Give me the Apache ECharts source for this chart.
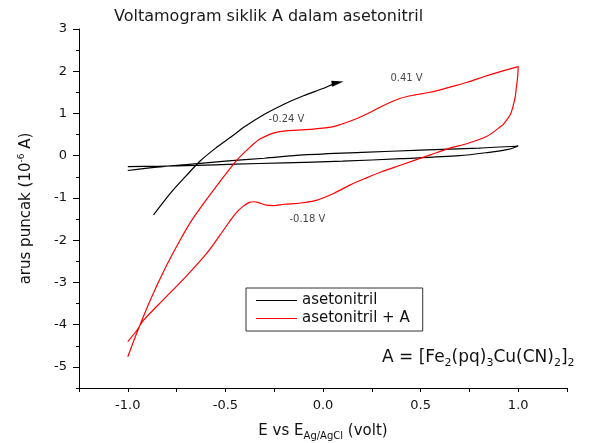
<!DOCTYPE html>
<html>
<head>
<meta charset="utf-8">
<script src="https://cdn.jsdelivr.net/npm/echarts@6/dist/echarts.min.js"></script>
<style>
  html, body { margin: 0; padding: 0; background: #fff; }
  #chart { width: 590px; height: 443px; }
</style>
</head>
<body>
<div id="chart"></div>
<script>
// 数据: 电位 (V) 与电流 (10^-6 A)
const xMajorTicks = [-1.0, -0.5, 0.0, 0.5, 1.0];
const xAllTicks = [-1.25, -1.0, -0.75, -0.5, -0.25, 0.0, 0.25, 0.5, 0.75, 1.0, 1.25];
const yMajorTicks = [-5, -4, -3, -2, -1, 0, 1, 2, 3];
const yMinorTicks = [-5.5, -4.5, -3.5, -2.5, -1.5, -0.5, 0.5, 1.5, 2.5];

// asetonitril (blanko)
const blankE = [-1.0, -0.85, -0.7, -0.5, -0.3, -0.1, 0.2, 0.5, 0.8, 1.0,
  0.95, 0.85, 0.7, 0.4, 0.1, -0.2, -0.45, -0.65, -0.85, -1.0];
const blankI = [-0.35, -0.27, -0.21, -0.13, -0.06, 0.02, 0.08, 0.13, 0.18, 0.23,
  0.15, 0.08, 0.0, -0.07, -0.13, -0.17, -0.2, -0.23, -0.25, -0.26];

// asetonitril + A
const sampleE = [-1.0, -0.956, -0.885, -0.808, -0.731, -0.671, -0.56, -0.44, -0.372, -0.321,
  -0.235, -0.115, -0.05, 0.054, 0.157, 0.23, 0.31, 0.397, 0.47, 0.534,
  0.6, 0.654, 0.74, 0.823, 0.9, 1.0,
  0.997, 0.99, 0.985, 0.962, 0.93, 0.91, 0.84, 0.74, 0.65, 0.55,
  0.4, 0.3, 0.22, 0.14, 0.06, -0.03, -0.115, -0.2, -0.25, -0.29,
  -0.33, -0.355, -0.38, -0.41, -0.44, -0.47, -0.5, -0.526, -0.594, -0.7,
  -0.82, -0.92, -0.956, -1.0];
const sampleI = [-4.76, -4.22, -3.42, -2.66, -1.99, -1.52, -0.81, -0.10, 0.21, 0.40,
  0.56, 0.61, 0.63, 0.69, 0.85, 1.0, 1.19, 1.36, 1.44, 1.49,
  1.56, 1.63, 1.74, 1.87, 1.98, 2.11,
  1.85, 1.6, 1.4, 1.0, 0.78, 0.69, 0.46, 0.29, 0.18, 0.02,
  -0.22, -0.38, -0.53, -0.69, -0.88, -1.05, -1.12, -1.15, -1.18, -1.17,
  -1.11, -1.09, -1.11, -1.2, -1.33, -1.5, -1.7, -1.87, -2.3, -2.85,
  -3.42, -3.9, -4.15, -4.40];

// 扫描方向箭头
const arrowE = [-0.868, -0.78, -0.7, -0.628, -0.55, -0.47, -0.4, -0.3, -0.2, -0.1, 0.0, 0.05, 0.075];
const arrowI = [-1.40, -0.88, -0.47, -0.12, 0.18, 0.45, 0.69, 0.98, 1.22, 1.42, 1.59, 1.69, 1.73];

// 峰值标注
const peakText = ['0.41 V', '-0.24 V', '-0.18 V'];
const peakE = [0.428, -0.187, -0.08];
const peakI = [1.84, 0.85, -1.5];

const FONT = 'DejaVu Sans';
const zip = (xs, ys) => xs.map((x, i) => [x, ys[i]]);

const chart = echarts.init(document.getElementById('chart'), null, { renderer: 'canvas' });

const arrowData = zip(arrowE, arrowI).map((p, i, arr) => {
  if (i === arr.length - 1) {
    return { value: p, symbol: 'triangle', symbolSize: [6, 12], symbolRotate: -80 };
  }
  return { value: p, symbol: 'none' };
});

const option = {
  backgroundColor: '#fff',
  animation: false,
  title: {
    text: 'Voltamogram siklik A dalam asetonitril',
    left: 109,
    top: 4,
    textStyle: { fontFamily: FONT, fontSize: 16, fontWeight: 'normal', color: '#1a1a1a' }
  },
  grid: { left: 79, right: 23, top: 29, bottom: 55, containLabel: false, outerBoundsMode: 'none' },
  legend: {
    orient: 'vertical',
    left: 246,
    top: 288,
    data: [
      { name: 'asetonitril', icon: 'path://M0 0H41V1H0Z' },
      { name: 'asetonitril + A', icon: 'path://M0 0H41V1H0Z' }
    ],
    borderColor: '#333',
    borderWidth: 1,
    borderRadius: 0,
    padding: [5, 13, 5, 10],
    itemWidth: 41,
    itemHeight: 1.3,
    itemGap: 3,
    textStyle: { fontFamily: FONT, fontSize: 15, color: '#111' }
  },
  xAxis: {
    type: 'value',
    min: -1.25,
    max: 1.25,
    interval: 0.25,
    splitLine: { show: false },
    axisLine: { onZero: false, lineStyle: { color: '#000', width: 1 } },
    axisTick: { show: true, length: 4, customValues: xAllTicks, lineStyle: { color: '#000' } },
    axisLabel: {
      margin: 11,
      fontFamily: FONT,
      fontSize: 13,
      color: '#111',
      customValues: xMajorTicks,
      formatter: v => v.toFixed(1)
    },
    name: 'E vs E{sub|Ag/AgCl} (volt)',
    nameLocation: 'middle',
    nameGap: 34,
    nameTextStyle: {
      fontFamily: FONT,
      fontSize: 15,
      color: '#111',
      rich: {
        sub: { fontFamily: FONT, fontSize: 10, color: '#111', padding: [9, 0, 0, 0] }
      }
    }
  },
  yAxis: [{
    type: 'value',
    min: -5.5,
    max: 3,
    splitLine: { show: false },
    axisLine: { show: true, onZero: false, lineStyle: { color: '#000', width: 1 } },
    axisTick: { show: true, length: 6, customValues: yMajorTicks, lineStyle: { color: '#000' } },
    axisLabel: {
      margin: 12,
      fontFamily: FONT,
      fontSize: 13,
      color: '#111',
      customValues: yMajorTicks,
      formatter: v => String(v)
    },
    name: 'arus puncak (10{sup|-6} A)',
    nameLocation: 'middle',
    nameRotate: 90,
    nameGap: 44,
    nameTextStyle: {
      fontFamily: FONT,
      fontSize: 15,
      color: '#111',
      rich: {
        sup: { fontFamily: FONT, fontSize: 9, color: '#111', padding: [0, 0, 9, 0] }
      }
    }
  }, {
    type: 'value',
    position: 'left',
    min: -5.5,
    max: 3,
    splitLine: { show: false },
    axisLine: { show: false, onZero: false },
    axisLabel: { show: false },
    axisTick: { show: true, length: 3, customValues: yMinorTicks, lineStyle: { color: '#000' } }
  }],
  graphic: [{
    type: 'text',
    left: 382,
    top: 349,
    style: {
      text: 'A = [Fe{s|2}(pq){s|3}Cu(CN){s|2}]{s|2}',
      fill: '#111',
      font: '17px "DejaVu Sans"',
      rich: {
        s: { fontSize: 11, fontFamily: FONT, fill: '#111', padding: [11, 0, 0, 0] }
      }
    }
  }],
  series: [
    {
      name: 'asetonitril',
      type: 'line',
      data: zip(blankE, blankI),
      symbol: 'none',
      smooth: 0.3,
      lineStyle: { color: '#000', width: 1.2 },
      itemStyle: { color: '#000' }
    },
    {
      name: 'asetonitril + A',
      type: 'line',
      data: zip(sampleE, sampleI),
      symbol: 'none',
      smooth: 0.3,
      lineStyle: { color: '#ff0000', width: 1.2 },
      itemStyle: { color: '#ff0000' }
    },
    {
      name: 'arah',
      type: 'line',
      data: arrowData,
      smooth: 0.3,
      lineStyle: { color: '#000', width: 1.2 },
      itemStyle: { color: '#000' }
    },
    {
      name: 'label',
      type: 'scatter',
      symbolSize: 0,
      data: peakE.map((x, i) => [x, peakI[i], peakText[i]]),
      label: {
        show: true,
        position: 'inside',
        formatter: p => p.value[2],
        fontFamily: FONT,
        fontSize: 10,
        color: '#111'
      }
    }
  ]
};

chart.setOption(option);
</script>
</body>
</html>
